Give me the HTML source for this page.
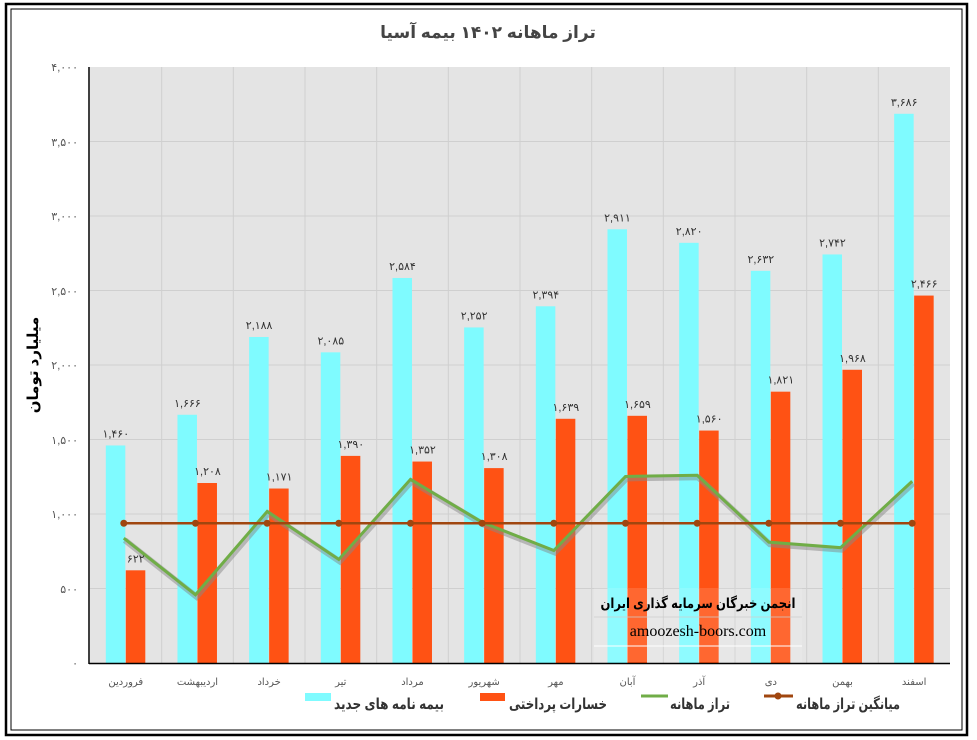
<!DOCTYPE html>
<html><head><meta charset="utf-8"><style>
body{margin:0;background:#fff;}
svg{display:block;font-family:"Liberation Sans","DejaVu Sans",sans-serif;}
</style></head><body>
<svg width="977" height="740" viewBox="0 0 977 740" xmlns="http://www.w3.org/2000/svg">
<rect x="0" y="0" width="977" height="740" fill="#fff"/>
<rect x="6" y="4" width="961" height="731" fill="none" stroke="#000" stroke-width="2.5"/>
<rect x="11" y="9" width="951" height="721" fill="none" stroke="#000" stroke-width="1"/>
<text x="488" y="38" text-anchor="middle" font-size="17" font-weight="bold" fill="#444">تراز ماهانه ۱۴۰۲ بیمه آسیا</text>
<rect x="90" y="67" width="860" height="596" fill="#e4e4e4"/>
<g stroke="#cfcfcf" stroke-width="1">
<line x1="90" x2="950" y1="141.5" y2="141.5"/><line x1="90" x2="950" y1="216" y2="216"/><line x1="90" x2="950" y1="290.5" y2="290.5"/><line x1="90" x2="950" y1="365" y2="365"/><line x1="90" x2="950" y1="439.5" y2="439.5"/><line x1="90" x2="950" y1="514" y2="514"/><line x1="90" x2="950" y1="588.5" y2="588.5"/>
<line x1="161.7" x2="161.7" y1="67" y2="663"/><line x1="233.3" x2="233.3" y1="67" y2="663"/><line x1="305" x2="305" y1="67" y2="663"/><line x1="376.7" x2="376.7" y1="67" y2="663"/><line x1="448.3" x2="448.3" y1="67" y2="663"/><line x1="520" x2="520" y1="67" y2="663"/><line x1="591.7" x2="591.7" y1="67" y2="663"/><line x1="663.3" x2="663.3" y1="67" y2="663"/><line x1="735" x2="735" y1="67" y2="663"/><line x1="806.7" x2="806.7" y1="67" y2="663"/><line x1="878.3" x2="878.3" y1="67" y2="663"/>
</g>
<g id="bars"></g>
<g id="lines"></g>
<!-- watermark -->
<rect x="594" y="588" width="208" height="74" fill="#fff" opacity="0.12"/>
<line x1="594" y1="646" x2="802" y2="646" stroke="#fff" stroke-width="1"/>
<line x1="594" y1="617" x2="802" y2="617" stroke="#ccc" stroke-width="0.8"/>
<text x="698" y="608" text-anchor="middle" font-size="14" font-weight="bold" fill="#000" textLength="195" lengthAdjust="spacingAndGlyphs">انجمن خبرگان سرمایه گذاری ایران</text>
<text x="698" y="636" text-anchor="middle" font-size="16" font-family="Liberation Serif,serif" fill="#000">amoozesh-boors.com</text>
<line x1="89" y1="67" x2="89" y2="664" stroke="#000" stroke-width="1.5"/>
<line x1="89" y1="663.5" x2="950" y2="663.5" stroke="#000" stroke-width="1.5"/>
<g font-size="11" fill="#555" text-anchor="end">
<text x="78" y="71">۴,۰۰۰</text><text x="78" y="146">۳,۵۰۰</text><text x="78" y="220">۳,۰۰۰</text><text x="78" y="295">۲,۵۰۰</text><text x="78" y="369">۲,۰۰۰</text><text x="78" y="444">۱,۵۰۰</text><text x="78" y="518">۱,۰۰۰</text><text x="78" y="593">۵۰۰</text><text x="78" y="667">۰</text>
</g>
<text transform="translate(38,365) rotate(-90)" text-anchor="middle" font-size="15" font-weight="bold" fill="#000">میلیارد تومان</text>
<g id="labels" font-size="11" fill="#333" text-anchor="middle"></g>
<g id="months" font-size="10" fill="#555" text-anchor="middle"></g>
<!-- legend -->
<rect x="305" y="693" width="26" height="8" fill="#7ffbff"/>
<text x="444" y="709" text-anchor="end" font-size="15" font-weight="bold" fill="#333" textLength="110" lengthAdjust="spacingAndGlyphs">بیمه نامه های جدید</text>
<rect x="480" y="693" width="25" height="8" fill="#ff5214"/>
<text x="607" y="709" text-anchor="end" font-size="15" font-weight="bold" fill="#333" textLength="98" lengthAdjust="spacingAndGlyphs">خسارات پرداختی</text>
<line x1="641" y1="696" x2="668" y2="696" stroke="#70ad47" stroke-width="3"/>
<text x="730" y="709" text-anchor="end" font-size="15" font-weight="bold" fill="#333" textLength="60" lengthAdjust="spacingAndGlyphs">تراز ماهانه</text>
<line x1="764" y1="696" x2="793" y2="696" stroke="#a0460f" stroke-width="3"/><circle cx="778" cy="696" r="3.5" fill="#a0460f"/>
<text x="900" y="709" text-anchor="end" font-size="15" font-weight="bold" fill="#333" textLength="104" lengthAdjust="spacingAndGlyphs">میانگین تراز ماهانه</text>
</svg>
<script>
var cy=[1460,1666,2188,2085,2584,2252,2394,2911,2820,2632,2742,3686];
var or=[622,1208,1171,1390,1352,1308,1639,1659,1560,1821,1968,2466];
var m=["فروردین","اردیبهشت","خرداد","تیر","مرداد","شهریور","مهر","آبان","آذر","دی","بهمن","اسفند"];
function fa(n){var s=n.toLocaleString('en-US');return s.replace(/\d/g,d=>"۰۱۲۳۴۵۶۷۸۹"[d]);}
function Y(v){return 663-v*0.149;}
var NS="http://www.w3.org/2000/svg";
function el(t,a,p,txt){var e=document.createElementNS(NS,t);for(var k in a)e.setAttribute(k,a[k]);if(txt)e.textContent=txt;document.getElementById(p).appendChild(e);return e;}
var bal=[],sum=0;
for(var i=0;i<12;i++){bal.push(cy[i]-or[i]);sum+=cy[i]-or[i];}
var avg=sum/12,pts=[],apts=[];
for(var i=0;i<12;i++){
 var c=90+71.67*i+35.8;
 el('rect',{x:c-20,y:Y(cy[i]),width:19.5,height:cy[i]*0.149,fill:'#7ffbff'},'bars');
 el('rect',{x:c,y:Y(or[i]),width:19.5,height:or[i]*0.149,fill:'#ff5214'},'bars');
 el('text',{x:c-10,y:Y(cy[i])-8},'labels',fa(cy[i]));
 el('text',{x:c+10,y:Y(or[i])-8},'labels',fa(or[i]));
 el('text',{x:c,y:685},'months',m[i]);
 pts.push((c-2)+","+Y(bal[i]));apts.push([c-2,Y(avg)]);
}
el('polyline',{points:pts.join(" "),fill:'none',stroke:'#888',"stroke-width":6,opacity:0.5,transform:'translate(1,2)'},'lines');
el('polyline',{points:pts.join(" "),fill:'none',stroke:'#70ad47',"stroke-width":3},'lines');
el('line',{x1:apts[0][0],x2:apts[11][0],y1:Y(avg),y2:Y(avg),stroke:'#a0460f',"stroke-width":2.5},'lines');
apts.forEach(p=>el('circle',{cx:p[0],cy:p[1],r:3.5,fill:'#a0460f'},'lines'));
</script>
</body></html>
